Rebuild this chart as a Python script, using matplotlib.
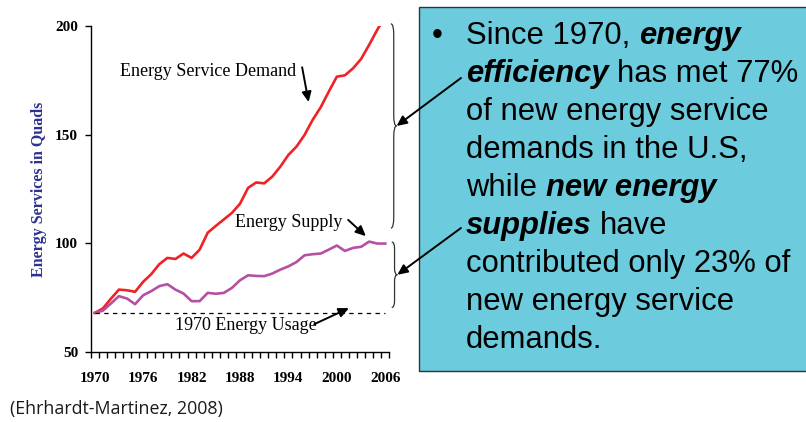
import numpy as np
import matplotlib
matplotlib.use('Agg')
import matplotlib.pyplot as plt
from matplotlib.path import Path
from matplotlib.patches import PathPatch, Rectangle

years = np.arange(1970, 2007)
demand = [68.0, 70.0, 74.5, 78.7, 78.4, 77.7, 82.3, 85.8, 90.4, 93.3,
          92.8, 95.3, 93.3, 97.1, 104.9, 108.0, 111.0, 114.0, 118.2, 125.5,
          128.0, 127.6, 130.7, 135.3, 140.7, 144.5, 149.9, 156.8, 162.6, 169.8,
          176.7, 177.3, 180.5, 184.8, 191.3, 198.2, 204.5]
supply = [68.0, 69.0, 72.3, 75.7, 74.6, 72.0, 76.1, 78.0, 80.3, 81.2,
          78.7, 76.9, 73.4, 73.4, 77.2, 76.8, 77.2, 79.5, 83.0, 85.3,
          85.0, 84.9, 86.1, 87.9, 89.4, 91.4, 94.5, 95.0, 95.3, 97.1,
          99.0, 96.5, 97.9, 98.4, 100.8, 99.9, 99.9]
usage_1970 = 68.0
xticklabels = ['1970', '1976', '1982', '1988', '1994', '2000', '2006']
yticks = [50, 100, 150, 200]

lines = [
    [('Since 1970, ', 'normal'), ('energy', 'bi')],
    [('efficiency', 'bi'), (' has met 77%', 'normal')],
    [('of new energy service', 'normal')],
    [('demands in the U.S,', 'normal')],
    [('while ', 'normal'), ('new energy', 'bi')],
    [('supplies', 'bi'), (' have', 'normal')],
    [('contributed only 23% of', 'normal')],
    [('new energy service', 'normal')],
    [('demands.', 'normal')],
]

serif = 'Liberation Serif'
sans = 'Liberation Sans'

fig = plt.figure(figsize=(8.06, 4.22), dpi=100)
W, H = 806.0, 422.0
ax = fig.add_axes([90.7 / W, 1 - 352 / H, 298.6 / W, 326 / H])

ax.plot(years, demand, color='#ee2227', lw=1.9, solid_joinstyle='round')
ax.plot(years, supply, color='#b550a2', lw=1.9, solid_joinstyle='round')
ax.plot([years[0], years[-1]], [usage_1970, usage_1970], color='black',
        lw=0.9, ls=(0, (3.5, 3.5)))

ax.set_xlim(1969.5, 2006.5)
ax.set_ylim(50, 200)
ax.spines['top'].set_visible(False)
ax.spines['right'].set_visible(False)
ax.spines['left'].set_linewidth(1.0)
ax.spines['bottom'].set_linewidth(1.0)

ax.set_xticks([int(s) for s in xticklabels])
ax.set_xticklabels(xticklabels, fontfamily=serif, fontweight='bold', fontsize=11)
ax.set_xticks(np.arange(1969.5, 2007, 1.0), minor=True)
ax.tick_params(axis='x', which='major', length=0, pad=14.5)
ax.tick_params(axis='x', which='minor', length=4, width=1.0, direction='out')
ax.set_yticks(yticks)
ax.set_yticklabels([str(v) for v in yticks], fontfamily=serif, fontweight='bold', fontsize=11)
ax.tick_params(axis='y', length=4, width=1.0, direction='out', pad=5)

ax.set_ylabel('Energy Services in Quads', fontfamily=serif, fontweight='bold',
              fontsize=11.5, color='#2e3190', labelpad=6)

# chart labels with arrows
arrow = dict(arrowstyle='-|>,head_length=0.6,head_width=0.28', color='black', lw=1.4,
             shrinkA=0, shrinkB=0)
ax.text(1973.1, 179.0, 'Energy Service Demand', fontfamily=serif, fontsize=13, va='center')
ax.annotate('', xy=(1996.5, 165.0), xytext=(1995.7, 181.0), arrowprops=arrow)
ax.text(1987.4, 109.4, 'Energy Supply', fontfamily=serif, fontsize=13, va='center')
ax.annotate('', xy=(2003.6, 103.3), xytext=(2001.4, 110.8), arrowprops=arrow)
ax.text(1980.0, 62.4, '1970 Energy Usage', fontfamily=serif, fontsize=13, va='center')
ax.annotate('', xy=(2001.5, 70.2), xytext=(1997.2, 62.8), arrowprops=arrow)


def brace(x0, ybot, ytop, w=0.7, r=2.5):
    xm = x0 + w * 0.5
    xt = x0 + w
    ymid = (ybot + ytop) / 2
    verts = [(x0, ytop), (xm, ytop), (xm, ytop - r), (xm, ytop - r),
             (xm, ymid + r), (xm, ymid), (xt, ymid),
             (xm, ymid), (xm, ymid - r),
             (xm, ybot + r), (xm, ybot + r), (xm, ybot), (x0, ybot)]
    codes = [Path.MOVETO, Path.CURVE3, Path.CURVE3, Path.LINETO,
             Path.LINETO, Path.CURVE3, Path.CURVE3,
             Path.CURVE3, Path.CURVE3,
             Path.LINETO, Path.LINETO, Path.CURVE3, Path.CURVE3]
    p = PathPatch(Path(verts, codes), fc='none', ec='#333333', lw=0.9, clip_on=False)
    ax.add_patch(p)
    return xt, ymid


tip1 = brace(2006.7, 107.0, 201.0, r=5)
tip2 = brace(2006.8, 70.5, 100.6, r=3)

# text box (behind the axes so the arrows show on top)
fig.patches.append(Rectangle((419 / W, 1 - 371 / H), 400 / W, 364 / H,
                             transform=fig.transFigure, fc='#6ccbdd', ec='#333333',
                             lw=1.0, zorder=-1))

fs = 22.3
fig.text(437 / W, 1 - 44 / H, '\u2022', fontfamily=sans, fontsize=fs,
         va='baseline', ha='center')
renderer = fig.canvas.get_renderer()
for i, segs in enumerate(lines):
    x = 466.0
    yb = 1 - (44 + 38 * i) / H
    for txt, st in segs:
        lead = len(txt) - len(txt.lstrip(' '))
        body = txt.strip(' ')
        trail = len(txt.rstrip(' ')) < len(txt)
        x += lead * 8.6
        if st == 'bi':
            t = fig.text(x / W, yb, body, fontfamily=sans, fontsize=fs,
                         fontweight='bold', fontstyle='italic', va='baseline')
        else:
            t = fig.text(x / W, yb, body, fontfamily=sans, fontsize=fs, va='baseline')
        bb = t.get_window_extent(renderer)
        x = bb.x1 + (8.6 if trail else 0)

ax.annotate('', xy=tip1, xycoords='data', xytext=(461 / W, 1 - 78 / H),
            textcoords='figure fraction', arrowprops=arrow, annotation_clip=False)
ax.annotate('', xy=tip2, xycoords='data', xytext=(461 / W, 1 - 228 / H),
            textcoords='figure fraction', arrowprops=arrow, annotation_clip=False)

fig.text(10 / W, 1 - 409 / H, '(Ehrhardt-Martinez, 2008)', fontfamily='Open Sans',
         fontsize=12.8, va='center', color='#1a1a1a')

fig.savefig('out.png', dpi=100)
